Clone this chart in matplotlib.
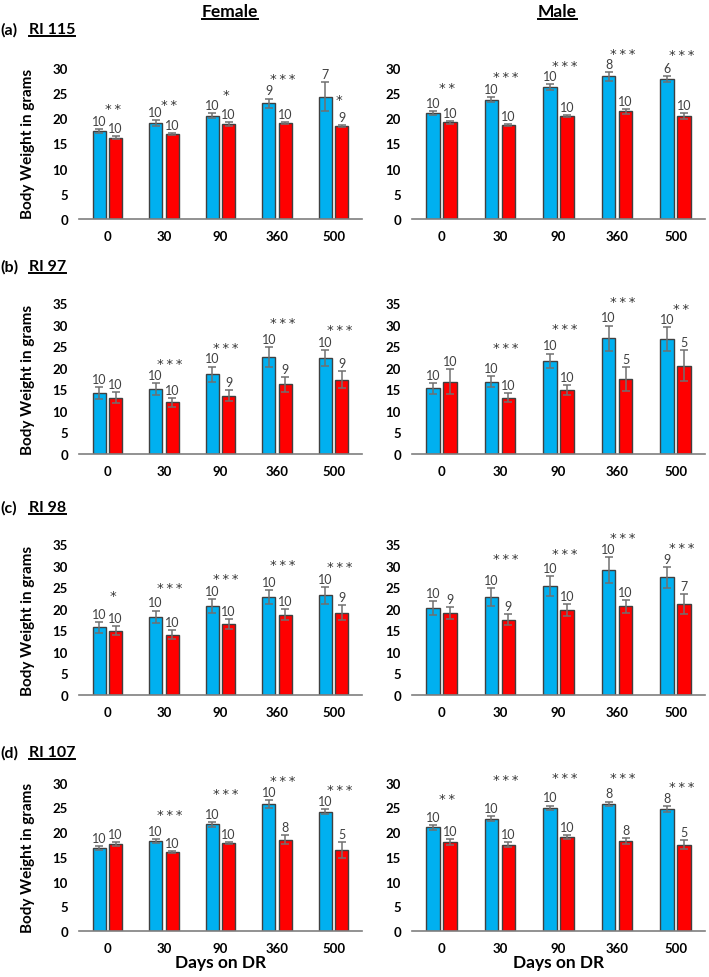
import numpy as np
import matplotlib
matplotlib.use('Agg')
import matplotlib.pyplot as plt
from matplotlib.lines import Line2D

plt.rcParams['font.family'] = ['Lato', 'DejaVu Sans']

days = ['0', '30', '90', '360', '500']

# RI 115
f115_al = [17.4, 19.0, 20.5, 23.0, 24.3]
f115_al_se = [0.4, 0.6, 0.5, 0.9, 2.8]
f115_dr = [16.1, 16.9, 18.9, 19.1, 18.4]
f115_dr_se = [0.3, 0.2, 0.4, 0.2, 0.2]
f115_n_al = [10, 10, 10, 9, 7]
f115_n_dr = [10, 10, 10, 10, 9]
f115_stars = ['**', '**', '*', '***', '*']
f115_star_y = [22.0, 22.7, 24.8, 27.8, 23.8]

m115_al = [21.0, 23.7, 26.1, 28.3, 27.7]
m115_al_se = [0.4, 0.5, 0.6, 0.9, 0.6]
m115_dr = [19.2, 18.7, 20.5, 21.4, 20.5]
m115_dr_se = [0.3, 0.2, 0.2, 0.5, 0.6]
m115_n_al = [10, 10, 10, 8, 6]
m115_n_dr = [10, 10, 10, 10, 10]
m115_stars = ['**', '***', '***', '***', '***']
m115_star_y = [26.0, 28.2, 30.5, 32.8, 32.6]

# RI 97
f97_al = [14.1, 15.1, 18.5, 22.5, 22.3]
f97_al_se = [1.4, 1.4, 1.8, 2.3, 1.9]
f97_dr = [13.1, 12.0, 13.5, 16.2, 17.2]
f97_dr_se = [1.3, 1.0, 1.3, 1.7, 2.0]
f97_n_al = [10, 10, 10, 10, 10]
f97_n_dr = [10, 10, 9, 9, 9]
f97_stars = ['', '***', '***', '***', '***']
f97_star_y = [0, 21.0, 24.7, 30.4, 28.8]

m97_al = [15.2, 16.8, 21.6, 26.9, 26.7]
m97_al_se = [1.2, 1.3, 1.7, 2.9, 2.8]
m97_dr = [16.8, 13.1, 14.8, 17.4, 20.5]
m97_dr_se = [2.9, 1.0, 1.1, 2.8, 3.6]
m97_n_al = [10, 10, 10, 10, 10]
m97_n_dr = [10, 10, 10, 5, 5]
m97_stars = ['', '***', '***', '***', '**']
m97_star_y = [0, 24.6, 29.1, 35.4, 33.7]

# RI 98
f98_al = [15.7, 18.2, 20.7, 22.7, 23.1]
f98_al_se = [1.3, 1.4, 1.6, 1.6, 1.9]
f98_dr = [14.9, 14.0, 16.5, 18.6, 19.1]
f98_dr_se = [1.0, 1.0, 1.2, 1.3, 1.8]
f98_n_al = [10, 10, 10, 10, 10]
f98_n_dr = [10, 10, 10, 10, 9]
f98_stars = ['*', '***', '***', '***', '***']
f98_star_y = [23.1, 25.0, 27.1, 30.2, 29.9]

m98_al = [20.1, 22.7, 25.3, 29.0, 27.3]
m98_al_se = [1.6, 2.1, 2.4, 3.0, 2.4]
m98_dr = [19.1, 17.5, 19.7, 20.6, 21.1]
m98_dr_se = [1.4, 1.3, 1.4, 1.5, 2.3]
m98_n_al = [10, 10, 10, 10, 9]
m98_n_dr = [9, 9, 10, 10, 7]
m98_stars = ['', '***', '***', '***', '***']
m98_star_y = [0, 31.6, 32.8, 36.6, 34.3]

# RI 107
f107_al = [16.8, 18.2, 21.6, 25.8, 24.1]
f107_al_se = [0.4, 0.4, 0.5, 0.8, 0.5]
f107_dr = [17.6, 15.9, 17.9, 18.5, 16.4]
f107_dr_se = [0.4, 0.2, 0.2, 0.9, 1.6]
f107_n_al = [10, 10, 10, 10, 10]
f107_n_dr = [10, 10, 10, 8, 5]
f107_stars = ['', '***', '***', '***', '***']
f107_star_y = [0, 23.5, 27.9, 30.5, 28.7]

m107_al = [21.0, 22.7, 24.9, 25.8, 24.7]
m107_al_se = [0.5, 0.5, 0.5, 0.4, 0.6]
m107_dr = [18.1, 17.5, 19.0, 18.3, 17.5]
m107_dr_se = [0.6, 0.5, 0.4, 0.6, 1.0]
m107_n_al = [10, 10, 10, 8, 8]
m107_n_dr = [10, 10, 10, 8, 5]
m107_stars = ['**', '***', '***', '***', '***']
m107_star_y = [26.9, 30.6, 31.0, 31.0, 29.3]

BLUE = '#00B0F0'
RED = '#FF0000'
GREY = '#404040'

W, H = 709, 978
fig = plt.figure(figsize=(W / 100, H / 100), dpi=100)


def add_ax(x0, x1, y_zero, pxu, ytop):
    return fig.add_axes([x0 / W, 1 - y_zero / H, (x1 - x0) / W, ytop * pxu / H])


def draw(ax, al, al_se, dr, dr_se, n_al, n_dr, stars, star_y, ytop, tmax):
    x = np.arange(len(days))
    w = 0.23
    ekw = dict(ecolor='#707070', elinewidth=1.1, capsize=3, capthick=1.1)
    ax.bar(x - 0.145, al, w, yerr=al_se, color=BLUE, edgecolor=GREY, lw=1, error_kw=ekw)
    ax.bar(x + 0.145, dr, w, yerr=dr_se, color=RED, edgecolor=GREY, lw=1, error_kw=ekw)
    for i in range(len(days)):
        ax.annotate(str(n_al[i]), (x[i] - 0.145, al[i] + al_se[i]), xytext=(0, 1.5),
                    textcoords='offset points', ha='center', va='bottom', fontsize=9, color=GREY)
        ax.annotate(str(n_dr[i]), (x[i] + 0.145, dr[i] + dr_se[i]), xytext=(0, 1.5),
                    textcoords='offset points', ha='center', va='bottom', fontsize=9, color=GREY)
        if stars[i]:
            ax.text(x[i] + 0.1, star_y[i], '\u2009'.join(stars[i]), ha='center', va='center',
                    fontsize=9.5, color='#333333', family='DejaVu Sans')
    ax.set_xlim(-0.5, 4.5)
    ax.set_ylim(0, ytop)
    ax.set_yticks(range(0, tmax + 1, 5))
    ax.set_xticks(x, days)
    ax.tick_params(axis='x', length=0, labelsize=9.5, pad=8)
    ax.tick_params(axis='y', length=0, labelsize=9.5, pad=8)
    for lbl in ax.get_xticklabels() + ax.get_yticklabels():
        lbl.set_fontweight('bold')
    for s in ['top', 'right', 'left']:
        ax.spines[s].set_visible(False)
    ax.spines['bottom'].set_color('#7f7f7f')
    ax.spines['bottom'].set_linewidth(1.2)


# row layout: zero line px, px per unit, ylim top, tick max, heading y px, tag, strain
rows = [
    (220, 5.04, 35, 30, 30, '(a)', 'RI 115'),
    (455, 4.31, 38, 35, 267, '(b)', 'RI 97'),
    (696, 4.31, 39, 35, 508, '(c)', 'RI 98'),
    (932, 4.94, 33, 30, 753, '(d)', 'RI 107'),
]

panels = [
    (f115_al, f115_al_se, f115_dr, f115_dr_se, f115_n_al, f115_n_dr, f115_stars, f115_star_y),
    (m115_al, m115_al_se, m115_dr, m115_dr_se, m115_n_al, m115_n_dr, m115_stars, m115_star_y),
    (f97_al, f97_al_se, f97_dr, f97_dr_se, f97_n_al, f97_n_dr, f97_stars, f97_star_y),
    (m97_al, m97_al_se, m97_dr, m97_dr_se, m97_n_al, m97_n_dr, m97_stars, m97_star_y),
    (f98_al, f98_al_se, f98_dr, f98_dr_se, f98_n_al, f98_n_dr, f98_stars, f98_star_y),
    (m98_al, m98_al_se, m98_dr, m98_dr_se, m98_n_al, m98_n_dr, m98_stars, m98_star_y),
    (f107_al, f107_al_se, f107_dr, f107_dr_se, f107_n_al, f107_n_dr, f107_stars, f107_star_y),
    (m107_al, m107_al_se, m107_dr, m107_dr_se, m107_n_al, m107_n_dr, m107_stars, m107_star_y),
]

underlined = []
for r, (y0, pxu, ytop, tmax, hy, tag, strain) in enumerate(rows):
    axf = add_ax(79, 362, y0, pxu, ytop)
    axm = add_ax(412, 705, y0, pxu, ytop)
    draw(axf, *panels[2 * r], ytop, tmax)
    draw(axm, *panels[2 * r + 1], ytop, tmax)
    axf.set_ylabel('Body Weight in grams', fontsize=11, fontweight='bold')
    axf.yaxis.set_label_coords(-0.155, (tmax / 2) / ytop)
    if r == 3:
        for ax in (axf, axm):
            ax.set_xlabel('Days on DR', fontsize=12.5, fontweight='bold', labelpad=0)
    fig.text(0 / W, 1 - hy / H, tag, fontsize=11.5, fontweight='bold', va='center', ha='left')
    t = fig.text(29 / W, 1 - hy / H, strain, fontsize=11.5, fontweight='bold', va='center', ha='left')
    underlined.append(t)

underlined.append(fig.text(230 / W, 1 - 12 / H, 'Female', fontsize=12.5, fontweight='bold',
                           va='center', ha='center'))
underlined.append(fig.text(557 / W, 1 - 12 / H, 'Male', fontsize=12.5, fontweight='bold',
                           va='center', ha='center'))

renderer = fig.canvas.get_renderer()
for t in underlined:
    bb = t.get_window_extent(renderer).transformed(fig.transFigure.inverted())
    fig.add_artist(Line2D([bb.x0, bb.x1], [bb.y0, bb.y0], color='black', lw=1.4))

fig.savefig('out.png', dpi=100)
